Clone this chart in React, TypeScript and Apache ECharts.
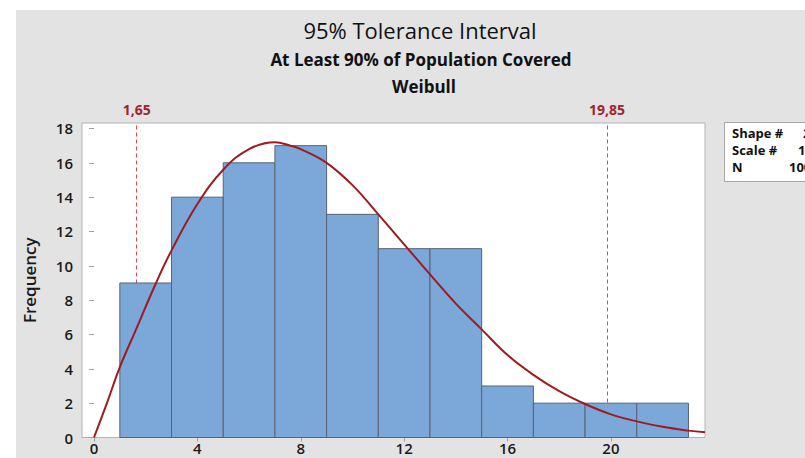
import React, { useEffect, useRef } from "react";
import * as echarts from "echarts";

// ---- data ----
const binStarts = [1, 3, 5, 7, 9, 11, 13, 15, 17, 19, 21];
const binWidth = 2;
const counts = [9, 14, 16, 17, 13, 11, 11, 3, 2, 2, 2];

const curveX = [0, 0.5, 1, 1.6, 2.4, 3, 4, 5, 6, 7, 7.6, 8, 9, 10, 11, 12, 13, 14, 15, 16, 17, 18, 19, 20, 21, 22, 23, 23.64];
const curveY = [0, 2.0, 4.1, 6.2, 9.0, 10.9, 13.6, 15.6, 16.8, 17.2, 17.0, 16.8, 16.0, 14.7, 13.0, 11.25, 9.5, 7.8, 6.3, 4.8, 3.65, 2.7, 1.95, 1.35, 0.94, 0.62, 0.4, 0.3];

const tolValues = [1.65, 19.85];
const tolLabels = ["1,65", "19,85"];

const xTicks = [0, 4, 8, 12, 16, 20];
const yTicks = [0, 2, 4, 6, 8, 10, 12, 14, 16, 18];

const legendLabels = ["Shape #", "Scale #", "N"];
const legendValues = ["2,104", "10,26", "100"];

const titleMain = "95% Tolerance Interval";
const titleSub = "At Least 90% of Population Covered";
const titleDist = "Weibull";

const FONT = "'Open Sans', 'Noto Sans', sans-serif";

export default function App() {
  const ref = useRef<HTMLDivElement>(null);

  useEffect(() => {
    if (!ref.current) return;
    const chart = echarts.init(ref.current, undefined, { renderer: "svg" });

    const barData = binStarts.map((s, i) => [s, s + binWidth, counts[i]]);
    const lineData = curveX.map((x, i) => [x, curveY[i]]);
    const valueXs = [803, 798, 789];

    const option: any = {
      animation: false,
      backgroundColor: "#ffffff",
      textStyle: { fontFamily: FONT },
      grid: {
        left: 82,
        right: 100,
        top: 123,
        bottom: 20.5,
        show: true,
        backgroundColor: "#ffffff",
        borderColor: "#b4b4b4",
        borderWidth: 1,
      },
      xAxis: {
        type: "value",
        min: -0.464,
        max: 23.64,
        axisLine: { show: false },
        splitLine: { show: false },
        axisTick: {
          show: true,
          length: 4,
          customValues: xTicks,
          lineStyle: { color: "#a0a0a0" },
        },
        axisLabel: {
          customValues: xTicks,
          margin: 3,
          fontSize: 15,
          fontWeight: 600,
          color: "#1a1a1a",
          fontFamily: FONT,
        },
      },
      yAxis: {
        type: "value",
        min: 0,
        max: 18.32,
        name: "Frequency",
        nameLocation: "middle",
        nameGap: 44,
        nameTextStyle: { fontSize: 17, fontWeight: 600, color: "#1a1a1a", fontFamily: FONT },
        axisLine: { show: false },
        splitLine: { show: false },
        axisTick: {
          show: true,
          length: 5,
          customValues: yTicks,
          lineStyle: { color: "#a0a0a0" },
        },
        axisLabel: {
          customValues: yTicks,
          margin: 9,
          fontSize: 15,
          fontWeight: 600,
          color: "#1a1a1a",
          fontFamily: FONT,
        },
      },
      graphic: [
        {
          type: "rect",
          z: -10,
          shape: { x: 16, y: 10, width: 800, height: 460 },
          style: { fill: "#e3e3e3" },
          silent: true,
        },
        {
          type: "text",
          x: 420,
          y: 30,
          style: {
            text: titleMain,
            fontSize: 22,
            fontFamily: FONT,
            fill: "#111",
            textAlign: "center",
            textVerticalAlign: "middle",
          },
        },
        {
          type: "text",
          x: 421,
          y: 59,
          style: {
            text: titleSub,
            fontSize: 17,
            fontWeight: "bold",
            fontFamily: FONT,
            fill: "#111",
            textAlign: "center",
            textVerticalAlign: "middle",
          },
        },
        {
          type: "text",
          x: 424,
          y: 86,
          style: {
            text: titleDist,
            fontSize: 17,
            fontWeight: "bold",
            fontFamily: FONT,
            fill: "#111",
            textAlign: "center",
            textVerticalAlign: "middle",
          },
        },
        {
          type: "rect",
          z: 10,
          shape: { x: 724.5, y: 122.5, width: 100, height: 59 },
          style: { fill: "#ffffff", stroke: "#a8a8a8", lineWidth: 1 },
        },
        ...legendLabels.map((t, i) => ({
          type: "text",
          z: 11,
          x: 732,
          y: 133 + i * 17,
          style: {
            text: t,
            fontSize: 13,
            fontWeight: "bold",
            fontFamily: FONT,
            fill: "#111",
            textVerticalAlign: "middle",
          },
        })),
        ...legendValues.map((t, i) => ({
          type: "text",
          z: 11,
          x: valueXs[i],
          y: 133 + i * 17,
          style: {
            text: t,
            fontSize: 13,
            fontWeight: "bold",
            fontFamily: FONT,
            fill: "#111",
            textVerticalAlign: "middle",
          },
        })),
      ],
      series: [
        {
          type: "line",
          data: [],
          z: 1,
          markLine: {
            silent: true,
            z: 1,
            symbol: ["none", "none"],
            lineStyle: { color: "#e8474d", type: [4, 3], width: 1 },
            label: {
              show: true,
              position: "end",
              distance: 7,
              fontSize: 14,
              fontWeight: "bold",
              color: "#a0252b",
              fontFamily: FONT,
            },
            data: tolValues.map((v, i) => ({
              xAxis: v,
              label: { formatter: tolLabels[i] },
            })),
          },
        },
        {
          type: "custom",
          z: 2,
          data: barData,
          encode: { x: [0, 1], y: 2 },
          renderItem: (params: any, api: any) => {
            const p0 = api.coord([api.value(0), 0]);
            const p1 = api.coord([api.value(1), api.value(2)]);
            return {
              type: "rect",
              shape: {
                x: p0[0],
                y: p1[1],
                width: p1[0] - p0[0],
                height: p0[1] - p1[1],
              },
              style: { fill: "#7ba7d9", stroke: "#5a6272", lineWidth: 1 },
            };
          },
        },
        {
          type: "line",
          z: 3,
          data: lineData,
          smooth: 0.4,
          showSymbol: false,
          symbol: "none",
          lineStyle: { color: "#9e1b1f", width: 2 },
          clip: true,
        },
      ],
    };

    chart.setOption(option);
    return () => chart.dispose();
  }, []);

  return (
    <div
      ref={ref}
      style={{ position: "fixed", left: 0, top: 0, width: 805, height: 458 }}
    />
  );
}
